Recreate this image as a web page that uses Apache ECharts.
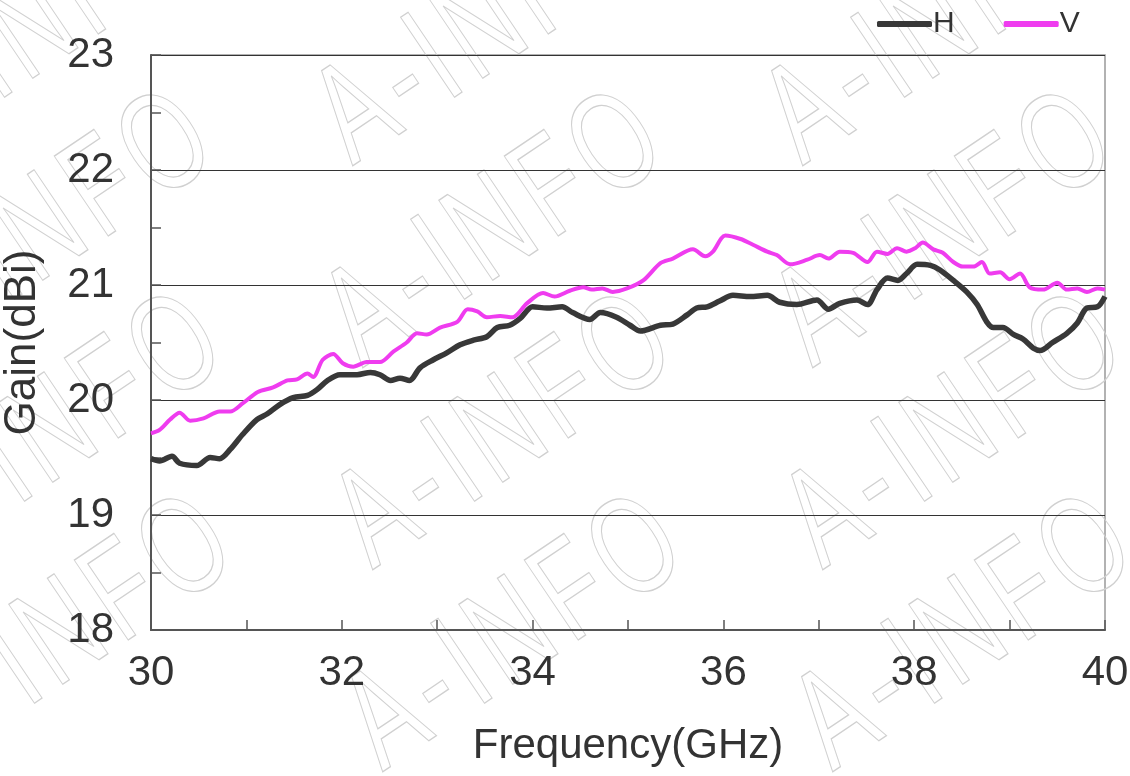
<!DOCTYPE html>
<html>
<head>
<meta charset="utf-8">
<script src="https://cdn.jsdelivr.net/npm/echarts@6/dist/echarts.min.js"></script>
<style>
html,body{margin:0;padding:0;background:#fff;}
#chart{width:1130px;height:776px;}
</style>
</head>
<body>
<div id="chart"></div>
<script>
// Frequency (GHz) and gain (dBi)
const hFreq = [30.00,30.09,30.22,30.30,30.48,30.62,30.72,30.83,30.96,31.11,31.22,31.35,31.49,31.64,31.74,31.85,31.98,32.16,32.30,32.40,32.51,32.61,32.71,32.82,32.96,33.10,33.24,33.38,33.52,33.63,33.76,33.87,34.00,34.15,34.31,34.42,34.60,34.71,34.88,35.02,35.13,35.34,35.47,35.62,35.72,35.83,35.96,36.10,36.28,36.46,36.59,36.77,36.98,37.10,37.22,37.40,37.51,37.61,37.72,37.83,37.92,38.03,38.17,38.27,38.41,38.55,38.66,38.76,38.83,38.93,39.04,39.14,39.25,39.32,39.45,39.60,39.71,39.81,39.92,40.00];
const hGain = [19.49,19.47,19.51,19.45,19.43,19.50,19.49,19.57,19.70,19.83,19.88,19.96,20.02,20.04,20.09,20.17,20.22,20.22,20.24,20.22,20.17,20.19,20.17,20.28,20.35,20.41,20.48,20.52,20.55,20.63,20.65,20.71,20.81,20.80,20.81,20.76,20.70,20.76,20.72,20.65,20.60,20.65,20.66,20.74,20.80,20.81,20.86,20.91,20.90,20.91,20.85,20.83,20.87,20.79,20.84,20.87,20.83,20.96,21.06,21.04,21.10,21.18,21.17,21.13,21.04,20.94,20.83,20.68,20.63,20.63,20.57,20.53,20.45,20.43,20.50,20.58,20.67,20.80,20.81,20.90];

const vFreq = [30.00,30.09,30.20,30.30,30.41,30.55,30.72,30.83,30.96,31.12,31.28,31.43,31.53,31.64,31.70,31.80,31.91,32.01,32.12,32.26,32.40,32.54,32.68,32.79,32.89,33.03,33.21,33.32,33.42,33.52,33.66,33.79,33.94,34.11,34.23,34.39,34.53,34.62,34.73,34.84,34.99,35.16,35.34,35.47,35.68,35.81,35.89,36.02,36.18,36.31,36.46,36.56,36.70,36.88,37.01,37.10,37.22,37.36,37.51,37.61,37.72,37.82,37.92,38.01,38.09,38.20,38.30,38.41,38.51,38.62,38.71,38.79,38.90,39.00,39.11,39.21,39.35,39.50,39.60,39.71,39.81,39.92,40.00];
const vGain = [19.71,19.74,19.83,19.89,19.82,19.84,19.90,19.90,19.97,20.07,20.11,20.17,20.18,20.23,20.20,20.35,20.40,20.32,20.29,20.33,20.33,20.42,20.50,20.58,20.57,20.63,20.68,20.79,20.77,20.72,20.73,20.72,20.84,20.93,20.90,20.95,20.98,20.96,20.97,20.94,20.97,21.04,21.19,21.23,21.31,21.25,21.29,21.43,21.40,21.35,21.29,21.26,21.18,21.22,21.26,21.23,21.29,21.28,21.20,21.29,21.27,21.32,21.29,21.32,21.37,21.31,21.28,21.20,21.16,21.16,21.20,21.10,21.11,21.05,21.10,20.98,20.96,21.02,20.96,20.97,20.94,20.97,20.96];

const seriesNames = ['H','V'];
const watermarkText = ['A','-','I','N','F','O'];

const hData = hFreq.map((f,i)=>[f,hGain[i]]);
const vData = vFreq.map((f,i)=>[f,vGain[i]]);

// watermark decoration (tiled outline text)
const wm = [];
const ang = 34*Math.PI/180;
const letterOffsets = [0,73,114,149,228,296];
for (let r=0;r<5;r++){
  for (let c=0;c<3;c++){
    const ax = -90 + 450*c + 10*r;
    const ay = -10 + 202*r;
    watermarkText.forEach((ch,k)=>{
      const d = letterOffsets[k];
      wm.push({
        type:'text', silent:true, z:0,
        x: ax + d*Math.cos(ang), y: ay - d*Math.sin(ang),
        rotation: ang, scaleX: 0.7,
        style:{text:ch, font:'140px "Liberation Sans", Arial, sans-serif', fill:'rgba(0,0,0,0)', stroke:'#d0d0d0', lineWidth:1.3, verticalAlign:'bottom', align:'left'}
      });
    });
  }
}

const chart = echarts.init(document.getElementById('chart'));
chart.setOption({
  backgroundColor:'#fff',
  animation:false,
  graphic: wm,
  legend:{
    left:872, top:4, itemWidth:55, itemHeight:6, itemGap:49, icon:'roundRect',
    textStyle:{fontSize:30, color:'#333', fontFamily:'"Liberation Sans", Arial, sans-serif', padding:[0,0,0,-4]},
    data: seriesNames
  },
  grid:{left:151, top:55, right:25, bottom:146, show:true, borderColor:'#999', borderWidth:1.5, backgroundColor:'transparent', outerBoundsMode:'none', containLabel:false},
  xAxis:{
    type:'value', min:30, max:40, interval:2,
    name:'Frequency(GHz)', nameLocation:'middle', nameGap:95,
    nameTextStyle:{fontSize:42, color:'#333', fontFamily:'"Liberation Sans", Arial, sans-serif'},
    axisLine:{show:true, lineStyle:{color:'#555', width:2}},
    axisTick:{show:true, inside:true, length:10, lineStyle:{color:'#555', width:1.5}},
    minorTick:{show:true, splitNumber:2, length:10, lineStyle:{color:'#555', width:1.5}},
    axisLabel:{fontSize:42, color:'#333', margin:22, fontFamily:'"Liberation Sans", Arial, sans-serif'},
    splitLine:{show:false}
  },
  yAxis:{
    type:'value', min:18, max:23, interval:1,
    name:'Gain(dBi)', nameLocation:'middle', nameGap:106, nameRotate:90,
    nameTextStyle:{fontSize:44, color:'#333', fontFamily:'"Liberation Sans", Arial, sans-serif'},
    axisLine:{show:true, lineStyle:{color:'#555', width:2}},
    axisTick:{show:true, inside:true, length:10, lineStyle:{color:'#555', width:1.5}},
    minorTick:{show:true, splitNumber:2, length:10, lineStyle:{color:'#555', width:1.5}},
    axisLabel:{fontSize:42, color:'#333', margin:37, fontFamily:'"Liberation Sans", Arial, sans-serif'},
    splitLine:{show:true, lineStyle:{color:'#333', width:1}}
  },
  series:[
    {name:seriesNames[0], type:'line', data:hData, symbol:'none', smooth:0.3, z:3,
     lineStyle:{color:'#383838', width:5.5}, itemStyle:{color:'#383838'}},
    {name:seriesNames[1], type:'line', data:vData, symbol:'none', smooth:0.3, z:4,
     lineStyle:{color:'#ef3cef', width:4}, itemStyle:{color:'#ef3cef'}}
  ]
});
</script>
</body>
</html>
